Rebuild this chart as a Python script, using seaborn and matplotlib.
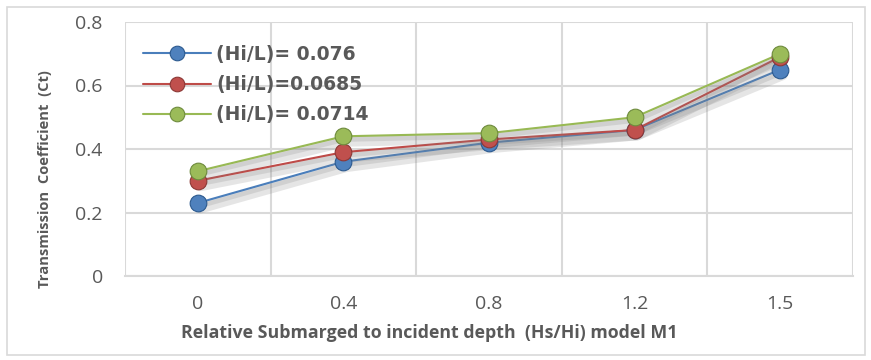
import numpy as np
import pandas as pd
import matplotlib
matplotlib.use("Agg")
import matplotlib.pyplot as plt
import matplotlib.patheffects as pe
from matplotlib.patches import Rectangle
import seaborn as sns

categories = ["0", "0.4", "0.8", "1.2", "1.5"]
series_names = ["(Hi/L)= 0.076", "(Hi/L)=0.0685", "(Hi/L)= 0.0714"]
blue_vals = [0.23, 0.36, 0.42, 0.46, 0.65]
red_vals = [0.30, 0.39, 0.43, 0.46, 0.69]
green_vals = [0.33, 0.44, 0.45, 0.50, 0.70]
yticks = [0, 0.2, 0.4, 0.6, 0.8]
ytick_labels = ["0", "0.2", "0.4", "0.6", "0.8"]
x_label = "Relative Submarged to incident depth  (Hs/Hi) model M1"
y_label = "Transmission  Coefficient  (Ct)"

sns.set_theme(style="white")
plt.rcParams['font.family'] = ['Open Sans', 'DejaVu Sans']

rows = []
for name, vals in zip(series_names, [blue_vals, red_vals, green_vals]):
    for i, v in enumerate(vals):
        rows.append({"pos": i, "val": v, "series": name})
df = pd.DataFrame(rows)

line_colors = ["#4A7EBB", "#BE4B48", "#98B954"]
face_colors = ["#4F81BD", "#C0504D", "#9BBB59"]
edge_colors = ["#2C5A8F", "#8C3836", "#6E8B3D"]

fig = plt.figure(figsize=(8.71, 3.6), dpi=100)
ax = fig.add_axes([125/871, 84/360, 728/871, 254/360])

fig.patches.append(Rectangle((7/871, 5/360), 858/871, 348/360, transform=fig.transFigure,
                             fill=False, edgecolor="#D9D9D9", linewidth=1.2))

sns.lineplot(data=df, x="pos", y="val", hue="series", palette=line_colors,
             ax=ax, linewidth=1.5, legend=False, sort=False)

shadow = [pe.SimpleLineShadow(offset=(2, -4), shadow_color="gray", alpha=0.2, linewidth=7),
          pe.SimpleLineShadow(offset=(1, -2), shadow_color="gray", alpha=0.2, linewidth=4),
          pe.Normal()]
for line in ax.get_lines():
    line.set_path_effects(shadow)

handles = []
for i, (name, vals) in enumerate(zip(series_names, [blue_vals, red_vals, green_vals])):
    ax.plot(range(len(vals)), vals, linestyle="none", marker="o", markersize=12,
            markerfacecolor=face_colors[i], markeredgecolor=edge_colors[i], markeredgewidth=0.8, zorder=5)
    h, = ax.plot([], [], color=line_colors[i], linewidth=1.5, marker="o", markersize=10.5,
                 markerfacecolor=face_colors[i], markeredgecolor=edge_colors[i], markeredgewidth=0.8)
    handles.append(h)

ax.set_xlim(-0.5, len(categories) - 0.5)
ax.set_ylim(0, 0.8)
ax.set_xticks(range(len(categories)))
ax.set_xticklabels(categories)
ax.set_yticks(yticks)
ax.set_yticklabels(ytick_labels)
ax.set_xticks(np.arange(-0.5, len(categories), 1.0), minor=True)
ax.grid(True, which="major", axis="y", color="#D9D9D9", linewidth=1.5)
ax.grid(True, which="minor", axis="x", color="#D9D9D9", linewidth=1.5)
ax.grid(False, which="major", axis="x")
ax.set_axisbelow(True)
for s in ["top", "right", "left"]:
    ax.spines[s].set_visible(False)
ax.spines["bottom"].set_color("#D9D9D9")
ax.spines["bottom"].set_linewidth(1.5)
ax.tick_params(axis="both", which="both", length=0, labelsize=14, colors="#595959")
ax.tick_params(axis="x", pad=14)
ax.tick_params(axis="y", pad=16)

ax.set_xlabel(x_label, fontsize=12.8, fontweight="bold", color="#595959")
ax.set_ylabel(y_label, fontsize=10.6, fontweight="bold", color="#595959")
ax.xaxis.set_label_coords((429 - 125) / 728, (276 - 333) / 254)
ax.xaxis.label.set_verticalalignment("center")
ax.yaxis.set_label_coords((45 - 125) / 728, (276 - 179) / 254)
ax.yaxis.label.set_verticalalignment("center")

leg = ax.legend(handles, series_names, loc="upper left", bbox_to_anchor=(0.025, 0.91),
                frameon=False, handlelength=3.6, labelspacing=0.6,
                handletextpad=0.3, borderaxespad=0, borderpad=0,
                prop={"family": "DejaVu Sans", "weight": "bold", "size": 13.5})
for t in leg.get_texts():
    t.set_color("#595959")

fig.savefig("out.png", dpi=100)
